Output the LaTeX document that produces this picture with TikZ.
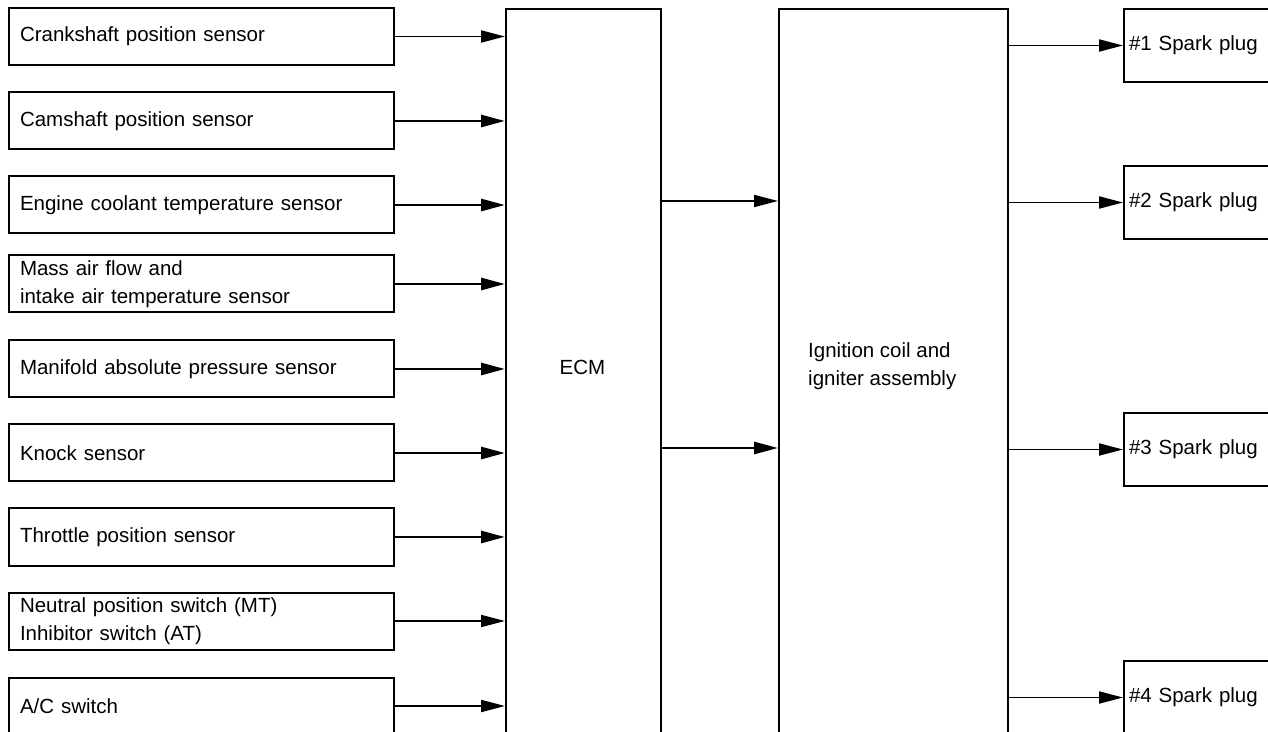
\documentclass[tikz,border=0pt]{standalone}
\usepackage{fontspec}
\setmainfont{Liberation Sans}
\usetikzlibrary{arrows.meta}
\begin{document}
\begin{tikzpicture}[x=1pt,y=1pt,
  every node/.style={font=\fontsize{20.5}{27.5}\selectfont},
  sbox/.style={draw, line width=2pt, anchor=west, minimum width=385pt, minimum height=57pt,
    inner xsep=11pt, text width=363pt, align=left},
  pbox/.style={draw, line width=2pt, anchor=north west, minimum width=170pt, minimum height=73pt,
    inner xsep=5pt, text width=160pt, align=left},
  bigbox/.style={draw, line width=2pt, anchor=north west, minimum height=780pt},
  arr/.style={line width=1.9pt, -{Triangle[length=24pt,width=12pt]}},
  arrb/.style={line width=2.8pt, -{Triangle[length=24pt,width=12pt]}},
  lbl/.style={inner sep=0pt, align=left}]
\useasboundingbox (0,0) rectangle (1268,731);
\clip (0,0) rectangle (1268,731);
\fill[white] (0,0) rectangle (1268,731);
% big boxes
\node[bigbox, minimum width=155pt] (ecm) at (505,723) {};
\node[bigbox, minimum width=229pt] (ign) at (778,723) {};
\node[lbl] (ecmlbl) at (582.5,364) {ECM};
\node[lbl, anchor=west] (ignlbl) at (808,365) {Ignition coil and\\igniter assembly};
% sensors
\node[sbox] (s1) at (8,694.5) {Crankshaft position sensor};
\node[sbox] (s2) at (8,610) {Camshaft position sensor};
\node[sbox] (s3) at (8,526) {Engine coolant temperature sensor};
\node[sbox] (s4) at (8,447) {Mass air flow and\\intake air temperature sensor};
\node[sbox] (s5) at (8,362) {Manifold absolute pressure sensor};
\node[sbox] (s6) at (8,278) {Knock sensor};
\node[sbox] (s7) at (8,194) {Throttle position sensor};
\node[sbox] (s8) at (8,110) {Neutral position switch (MT)\\Inhibitor switch (AT)};
\node[sbox] (s9) at (8,25) {A/C switch};
\draw[arr]  (s1.east) -- (s1.east -| ecm.west);
\draw[arrb] (s2.east) -- (s2.east -| ecm.west);
\draw[arrb] (s3.east) -- (s3.east -| ecm.west);
\draw[arrb] (s4.east) -- (s4.east -| ecm.west);
\draw[arrb] (s5.east) -- (s5.east -| ecm.west);
\draw[arrb] (s6.east) -- (s6.east -| ecm.west);
\draw[arrb] (s7.east) -- (s7.east -| ecm.west);
\draw[arr]  (s8.east) -- (s8.east -| ecm.west);
\draw[arr]  (s9.east) -- (s9.east -| ecm.west);
% ECM to ignition
\coordinate (e1) at (ecm.east |- 0,530);
\coordinate (e2) at (ecm.east |- 0,283);
\draw[arr]  (e1) -- (e1 -| ign.west);
\draw[arrb] (e2) -- (e2 -| ign.west);
% spark plugs
\node[pbox] (p1) at (1123,723) {\#1 Spark plug};
\node[pbox] (p2) at (1123,566) {\#2 Spark plug};
\node[pbox] (p3) at (1123,319) {\#3 Spark plug};
\node[pbox] (p4) at (1123,71) {\#4 Spark plug};
\draw[arr] (p1.west -| ign.east) -- (p1.west);
\draw[arr] (p2.west -| ign.east) -- (p2.west);
\draw[arr] (p3.west -| ign.east) -- (p3.west);
\draw[arr] (p4.west -| ign.east) -- (p4.west);
\end{tikzpicture}
\end{document}
